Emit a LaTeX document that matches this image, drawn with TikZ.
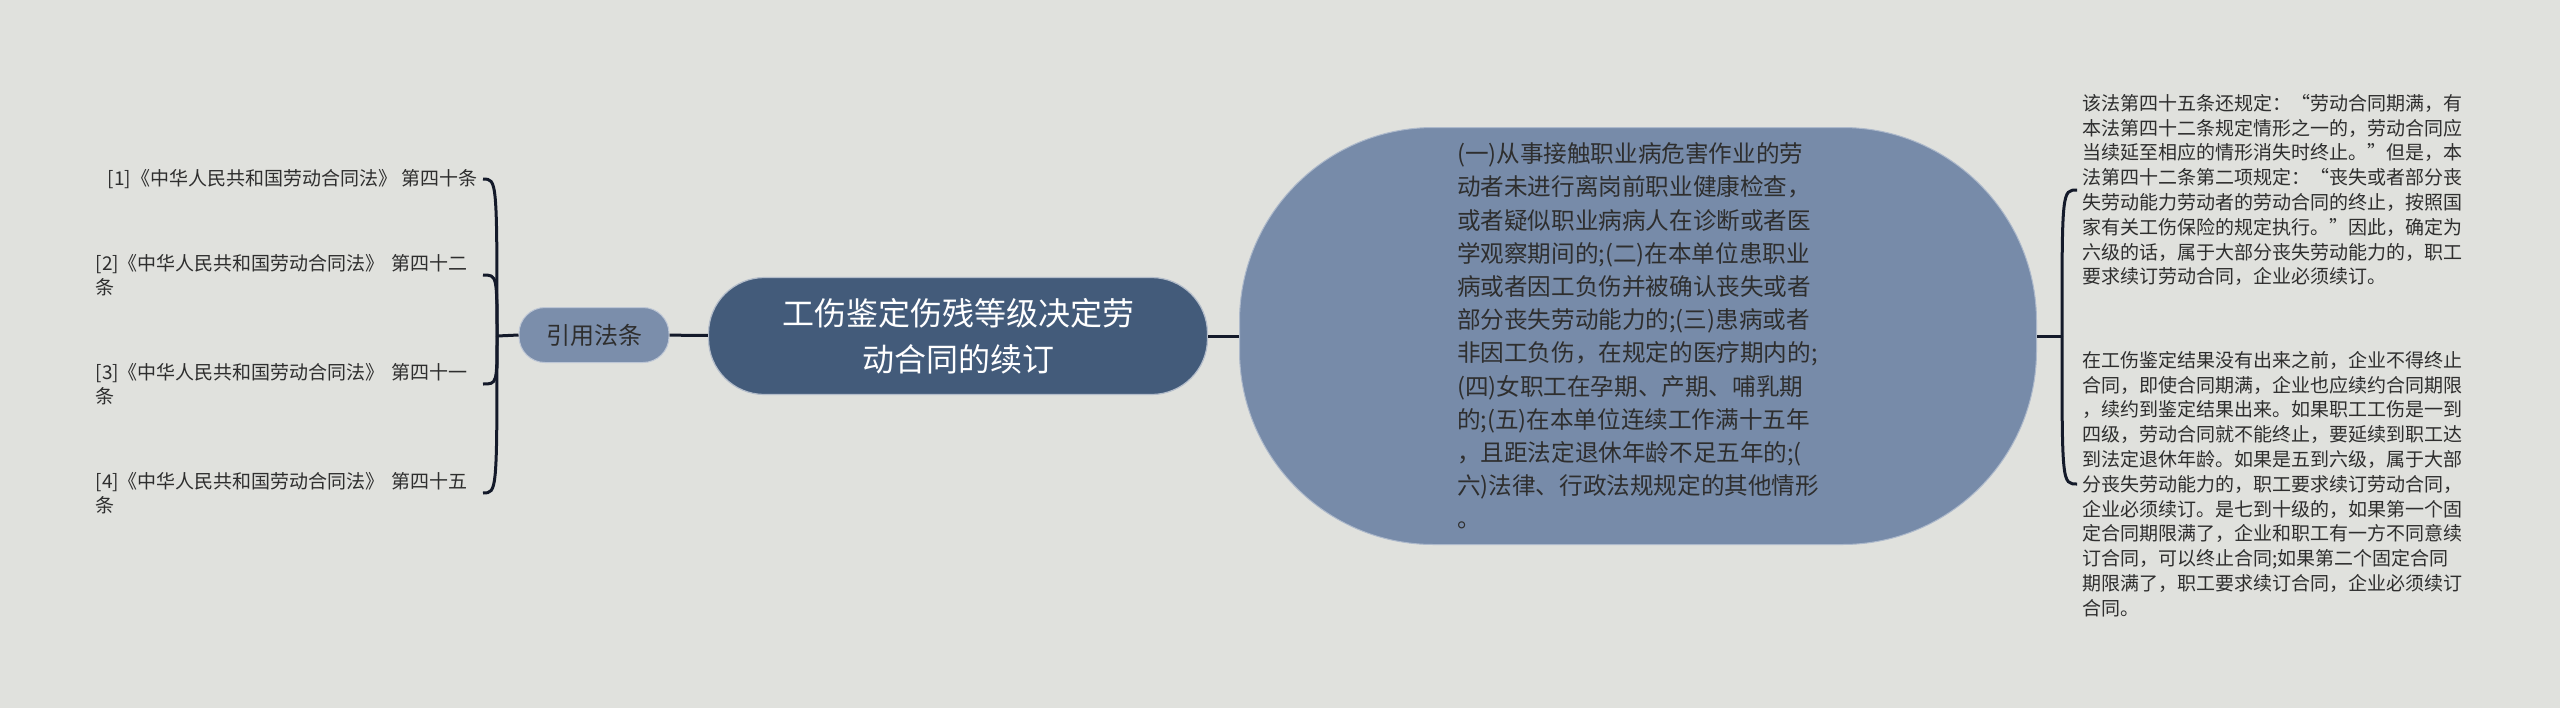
\documentclass[tikz,border=0pt]{standalone}
\usepackage{fontspec}
\setmainfont{Noto Sans CJK SC}
\definecolor{paper}{HTML}{E0E1DD}
\definecolor{topicfill}{HTML}{435B7A}
\definecolor{subfill}{HTML}{778BA9}
\definecolor{citefill}{HTML}{7B8EAB}
\definecolor{linkcol}{HTML}{141A2A}
\definecolor{ink}{HTML}{2E2E2E}

\begin{document}
\begin{tikzpicture}[x=0.5pt, y=-0.5pt,
    link/.style={draw=linkcol, line width=1.5pt},
    leaf/.style={font=\fontsize{9.5}{12}\selectfont, text=ink, inner sep=2.5pt, align=left},
    note/.style={font=\fontsize{9.5}{12.4}\selectfont, text=ink, inner sep=2.5pt, align=left, text width=192pt}]
    \useasboundingbox [fill=paper] (0,0) rectangle (2560,708);
    \node [fill=topicfill, draw=white!60!topicfill, line width=0.6pt, rounded corners=28pt,
           minimum width=249.5pt, minimum height=58.5pt, text=white, align=center,
           font=\fontsize{16}{23}\selectfont] (topic) at (958,336)
           {工伤鉴定伤残等级决定劳\\动合同的续订};
    \node [fill=citefill, draw=white!50!citefill, line width=0.5pt, rounded corners=13pt,
           minimum width=75pt, minimum height=27.5pt, text=ink,
           font=\fontsize{12}{14}\selectfont] (cite) at (594,335) {引用法条};
    \node [fill=subfill, draw=white!40!subfill, line width=0.5pt, rounded corners=97pt,
           minimum width=398.5pt, minimum height=208.5pt, text=ink, align=left,
           font=\fontsize{11.8}{16.6}\selectfont] (rules) at (1638,336)
           {(一)从事接触职业病危害作业的劳\\动者未进行离岗前职业健康检查，\\或者疑似职业病病人在诊断或者医\\学观察期间的;(二)在本单位患职业\\病或者因工负伤并被确认丧失或者\\部分丧失劳动能力的;(三)患病或者\\非因工负伤，在规定的医疗期内的;\\(四)女职工在孕期、产期、哺乳期\\的;(五)在本单位连续工作满十五年\\，且距法定退休年龄不足五年的;(\\六)法律、行政法规规定的其他情形\\。};

    \node [leaf, anchor=east] (law1) at (483,179) {[1]《中华人民共和国劳动合同法》~第四十条};
    \node [leaf, anchor=east, text width=191pt] (law2) at (483,275) {[2]《中华人民共和国劳动合同法》~第四十二\\条};
    \node [leaf, anchor=east, text width=191pt] (law3) at (483,384) {[3]《中华人民共和国劳动合同法》~第四十一\\条};
    \node [leaf, anchor=east, text width=191pt] (law4) at (483,493) {[4]《中华人民共和国劳动合同法》~第四十五\\条};

    \node [note, anchor=west] (note1) at (2077,190)
          {该法第四十五条还规定：“劳动合同期满，有\\本法第四十二条规定情形之一的，劳动合同应\\当续延至相应的情形消失时终止。”但是，本\\法第四十二条第二项规定：“丧失或者部分丧\\失劳动能力劳动者的劳动合同的终止，按照国\\家有关工伤保险的规定执行。”因此，确定为\\六级的话，属于大部分丧失劳动能力的，职工\\要求续订劳动合同，企业必须续订。};
    \node [note, anchor=west] (note2) at (2077,484)
          {在工伤鉴定结果没有出来之前，企业不得终止\\合同，即使合同期满，企业也应续约合同期限\\，续约到鉴定结果出来。如果职工工伤是一到\\四级，劳动合同就不能终止，要延续到职工达\\到法定退休年龄。如果是五到六级，属于大部\\分丧失劳动能力的，职工要求续订劳动合同，\\企业必须续订。是七到十级的，如果第一个固\\定合同期限满了，企业和职工有一方不同意续\\订合同，可以终止合同;如果第二个固定合同\\期限满了，职工要求续订合同，企业必须续订\\合同。};

    \coordinate (lj) at (497,336);
    \coordinate (rj) at (2062,336);
    \draw [link] (topic) -- (cite);
    \draw [link] (topic) -- (rules);
    \draw [link] (cite.west) -- (lj);
    \draw [link] (rules.east) -- (rj);
    \foreach \n in {law1,law2,law3,law4}
        \draw [link] (lj) .. controls (lj |- \n.east) .. (\n.east);
    \foreach \n in {note1,note2}
        \draw [link] (rj) .. controls (rj |- \n.west) .. (\n.west);
\end{tikzpicture}
\end{document}
